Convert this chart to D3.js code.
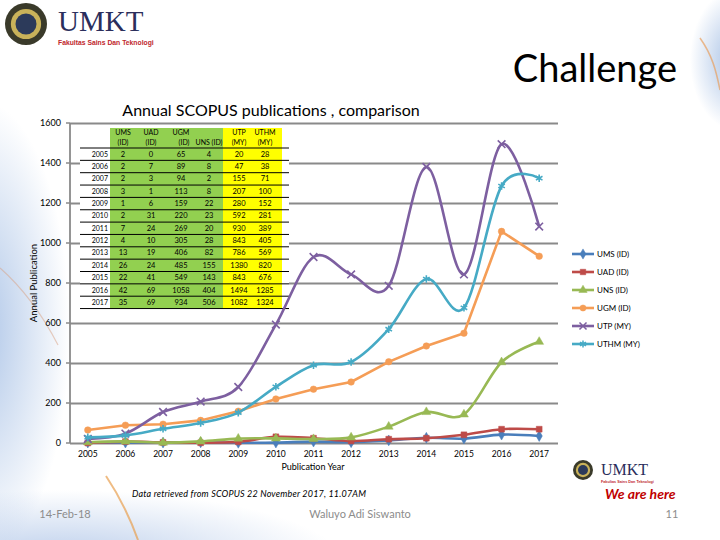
<!DOCTYPE html>
<html><head><meta charset="utf-8">
<script src="https://cdn.jsdelivr.net/npm/d3@7"></script>
<style>body{margin:0;background:#fff}svg{display:block}</style>
</head><body>
<script>
// ---- data ----
const years = [2005,2006,2007,2008,2009,2010,2011,2012,2013,2014,2015,2016,2017];
const ums  = [2,2,2,3,1,2,7,4,13,26,22,42,35];
const uad  = [0,7,3,1,6,31,24,10,19,24,41,69,69];
const ugm  = [65,89,94,113,159,220,269,305,406,485,549,1058,934];
const uns  = [4,8,2,8,22,23,20,28,82,155,143,404,506];
const utp  = [20,47,155,207,280,592,930,843,786,1380,843,1494,1082];
const uthm = [28,38,71,100,152,281,389,405,569,820,676,1285,1324];
const seriesNames = ["UMS (ID)","UAD (ID)","UNS (ID)","UGM (ID)","UTP (MY)","UTHM (MY)"];
const yTicks = [0,200,400,600,800,1000,1200,1400,1600];
const tableHead1 = ["UMS","UAD","UGM","","UTP","UTHM"];
const tableHead2 = ["(ID)","(ID)","(ID)","UNS (ID)","(MY)","(MY)"];

const W=720,H=540;
const svg=d3.select("body").append("svg").attr("width",W).attr("height",H);
const defs=svg.append("defs");
function rg(id,c,o){const g=defs.append("radialGradient").attr("id",id);
  g.append("stop").attr("offset","0%").attr("stop-color",c).attr("stop-opacity",o);
  g.append("stop").attr("offset","100%").attr("stop-color",c).attr("stop-opacity",0);}
rg("gL","#9fbbe3",0.85); rg("gB","#a9c1e6",0.8); rg("gT","#8fb0de",0.8);

// decorative background
svg.append("ellipse").attr("cx",-20).attr("cy",330).attr("rx",90).attr("ry",230).attr("fill","url(#gL)");
svg.append("ellipse").attr("cx",60).attr("cy",560).attr("rx",280).attr("ry",70).attr("fill","url(#gB)");
svg.append("ellipse").attr("cx",735).attr("cy",60).attr("rx",45).attr("ry",70).attr("fill","url(#gT)");
svg.append("path").attr("d","M0,268 C25,290 45,320 58,345").attr("fill","none").attr("stroke","#d9a080").attr("stroke-width",1.2).attr("opacity",0.5);
svg.append("path").attr("d","M106,476 C118,494 129,515 138,540").attr("fill","none").attr("stroke","#e8a050").attr("stroke-width",2).attr("opacity",0.7);
svg.append("path").attr("d","M700,38 C712,55 716,70 720,90").attr("fill","none").attr("stroke","#e8a060").attr("stroke-width",1.5).attr("opacity",0.7);

// logos
function logo(g,cx,cy,r,fs,sx,sb,ry,rfs){
  g.append("circle").attr("cx",cx).attr("cy",cy).attr("r",r).attr("fill","#3a3a2a");
  g.append("circle").attr("cx",cx).attr("cy",cy).attr("r",r*0.72).attr("fill","#c9b25a");
  g.append("circle").attr("cx",cx).attr("cy",cy).attr("r",r*0.5).attr("fill","#2c3a5a");
  g.append("text").attr("x",sx).attr("y",sb).attr("font-family","Liberation Serif, serif").attr("font-size",fs).attr("fill","#2b2e5c").text("UMKT");
  g.append("text").attr("x",sx).attr("y",ry).attr("font-family","Liberation Sans, sans-serif").attr("font-weight","bold").attr("font-size",rfs).attr("fill","#c0272d").attr("textLength",fs*3.3).attr("lengthAdjust","spacingAndGlyphs").text("Fakultas Sains Dan Teknologi");
}
logo(svg.append("g"),26,24,21,29,58,31,45,7);
logo(svg.append("g"),583,470,10,16,601,475,483,3.5);
svg.append("text").attr("x",605).attr("y",499).attr("font-family","Lato, sans-serif").attr("font-weight","bold").attr("font-style","italic").attr("font-size",14).attr("fill","#c00000").text("We are here");

svg.append("text").attr("x",677).attr("y",82).attr("text-anchor","end").attr("font-family","Lato, sans-serif").attr("font-size",38).attr("fill","#000").text("Challenge");

// chart
const x=d3.scaleBand().domain(years).range([69,558]).padding(0);
const xc=d=>x(d)+x.bandwidth()/2;
const y=d3.scaleLinear().domain([0,1600]).range([443,123]);

const grid=svg.append("g").attr("transform","translate(70,0)")
  .call(d3.axisLeft(y).tickValues(yTicks).tickSize(-488).tickPadding(9).tickFormat(d3.format("d")));
grid.select(".domain").remove();
grid.selectAll(".tick line").attr("stroke","#8a8a8a").attr("stroke-width",1.8);
grid.selectAll(".tick text").attr("font-family","Lato, sans-serif").attr("font-size",9).attr("fill","#000");
svg.append("line").attr("x1",70).attr("x2",70).attr("y1",123).attr("y2",443).attr("stroke","#8a8a8a").attr("stroke-width",1.8);
svg.append("g").selectAll("line").data(yTicks).join("line").attr("x1",66).attr("x2",70).attr("y1",d=>y(d)).attr("y2",d=>y(d)).attr("stroke","#8a8a8a").attr("stroke-width",1.5);

const xa=svg.append("g").attr("transform","translate(0,443)").call(d3.axisBottom(x).tickSize(0).tickPadding(8));
xa.select(".domain").remove();
xa.selectAll("text").attr("font-family","Lato, sans-serif").attr("font-size",8.5).attr("fill","#000");

svg.append("text").attr("x",313).attr("y",470).attr("text-anchor","middle").attr("font-family","Lato, sans-serif").attr("font-size",9).text("Publication Year");
svg.append("text").attr("transform","translate(37,283) rotate(-90)").attr("text-anchor","middle").attr("font-family","Lato, sans-serif").attr("font-size",9.5).text("Annual Publication");
svg.append("text").attr("x",271).attr("y",116).attr("text-anchor","middle").attr("font-family","Lato, sans-serif").attr("font-size",16).text("Annual SCOPUS publications , comparison");

// table
const tb=svg.append("g");
const rowH=12.35, tTop=148;
tb.append("rect").attr("x",80).attr("y",126).attr("width",209).attr("height",185).attr("fill","#fff");
tb.append("rect").attr("x",110).attr("y",128).attr("width",113).attr("height",181).attr("fill","#92d050");
tb.append("rect").attr("x",223).attr("y",128).attr("width",59).attr("height",181).attr("fill","#ffff00");
const colX=[123,151,181,209,239,265];
const tableCols=[ums,uad,ugm,uns,utp,uthm];
const tf="Lato, sans-serif";
tb.selectAll(".h1").data(tableHead1).join("text").attr("x",(d,i)=>colX[i]).attr("y",135).attr("text-anchor","middle").attr("font-family",tf).attr("font-size",7).text(d=>d);
tb.selectAll(".h2").data(tableHead2).join("text").attr("x",(d,i)=>colX[i]+(i===2?3:0)).attr("y",145).attr("text-anchor","middle").attr("font-family",tf).attr("font-size",7).text(d=>d);
tb.selectAll(".rl").data(d3.range(years.length+1)).join("line").attr("x1",80).attr("x2",289)
  .attr("y1",i=>tTop+i*rowH).attr("y2",i=>tTop+i*rowH).attr("stroke","#000").attr("stroke-width",1);
tb.selectAll(".yr").data(years).join("text").attr("x",108).attr("y",(d,i)=>tTop+(i+0.5)*rowH+2.5).attr("text-anchor","end").attr("font-family",tf).attr("font-size",7).text(d=>d);
tableCols.forEach((col,c)=>{
  tb.selectAll(".c"+c).data(col).join("text").attr("x",colX[c]).attr("y",(d,i)=>tTop+(i+0.5)*rowH+2.5).attr("text-anchor","middle").attr("font-family",tf).attr("font-size",7.5).text(d=>d);
});

// series
const series=[
  {name:seriesNames[0],v:ums,c:"#4a7ebb",sym:d3.symbolDiamond,fill:true,curve:d3.curveCatmullRom.alpha(0)},
  {name:seriesNames[1],v:uad,c:"#be4b48",sym:d3.symbolSquare,fill:true,curve:d3.curveCatmullRom.alpha(0)},
  {name:seriesNames[2],v:uns,c:"#98b954",sym:d3.symbolTriangle,fill:true,curve:d3.curveCatmullRom.alpha(0)},
  {name:seriesNames[3],v:ugm,c:"#f59d56",sym:d3.symbolCircle,fill:true,curve:d3.curveLinear},
  {name:seriesNames[4],v:utp,c:"#7d5fa0",sym:d3.symbolTimes,fill:false,curve:d3.curveCatmullRom.alpha(0)},
  {name:seriesNames[5],v:uthm,c:"#46aac5",sym:d3.symbolAsterisk,fill:false,curve:d3.curveCatmullRom.alpha(0)}
];
const pg=svg.append("g");
series.forEach(s=>{
  const pts=years.map((yr,i)=>[xc(yr),y(s.v[i])]);
  pg.append("path").attr("d",d3.line().curve(s.curve)(pts)).attr("fill","none").attr("stroke",s.c).attr("stroke-width",2.6);
  pg.append("g").selectAll("path").data(pts).join("path")
    .attr("transform",p=>`translate(${p[0]},${p[1]})`)
    .attr("d",d3.symbol().type(s.sym).size(s.fill?34:40)())
    .attr("fill",s.fill?s.c:"none").attr("stroke",s.c).attr("stroke-width",s.fill?0.5:1.6);
});

// legend
const lg=svg.append("g");
series.forEach((s,i)=>{
  const ly=254+i*18;
  lg.append("line").attr("x1",572).attr("x2",594).attr("y1",ly).attr("y2",ly).attr("stroke",s.c).attr("stroke-width",2.6);
  lg.append("path").attr("transform",`translate(583,${ly})`).attr("d",d3.symbol().type(s.sym).size(s.fill?30:34)())
    .attr("fill",s.fill?s.c:"none").attr("stroke",s.c).attr("stroke-width",s.fill?0.5:1.5);
  lg.append("text").attr("x",597).attr("y",ly+3).attr("font-family",tf).attr("font-size",8).text(s.name);
});

// footer
svg.append("text").attr("x",132).attr("y",497).attr("font-family",tf).attr("font-style","italic").attr("font-size",9).attr("textLength",234).text("Data retrieved from SCOPUS 22 November 2017, 11.07AM");
svg.append("text").attr("x",65).attr("y",518).attr("text-anchor","middle").attr("font-family",tf).attr("font-size",11).attr("fill","#8c8c8c").text("14-Feb-18");
svg.append("text").attr("x",360).attr("y",518).attr("text-anchor","middle").attr("font-family",tf).attr("font-size",11).attr("fill","#8c8c8c").text("Waluyo Adi Siswanto");
svg.append("text").attr("x",672).attr("y",518).attr("text-anchor","middle").attr("font-family",tf).attr("font-size",11).attr("fill","#8c8c8c").text("11");
</script>
</body></html>
